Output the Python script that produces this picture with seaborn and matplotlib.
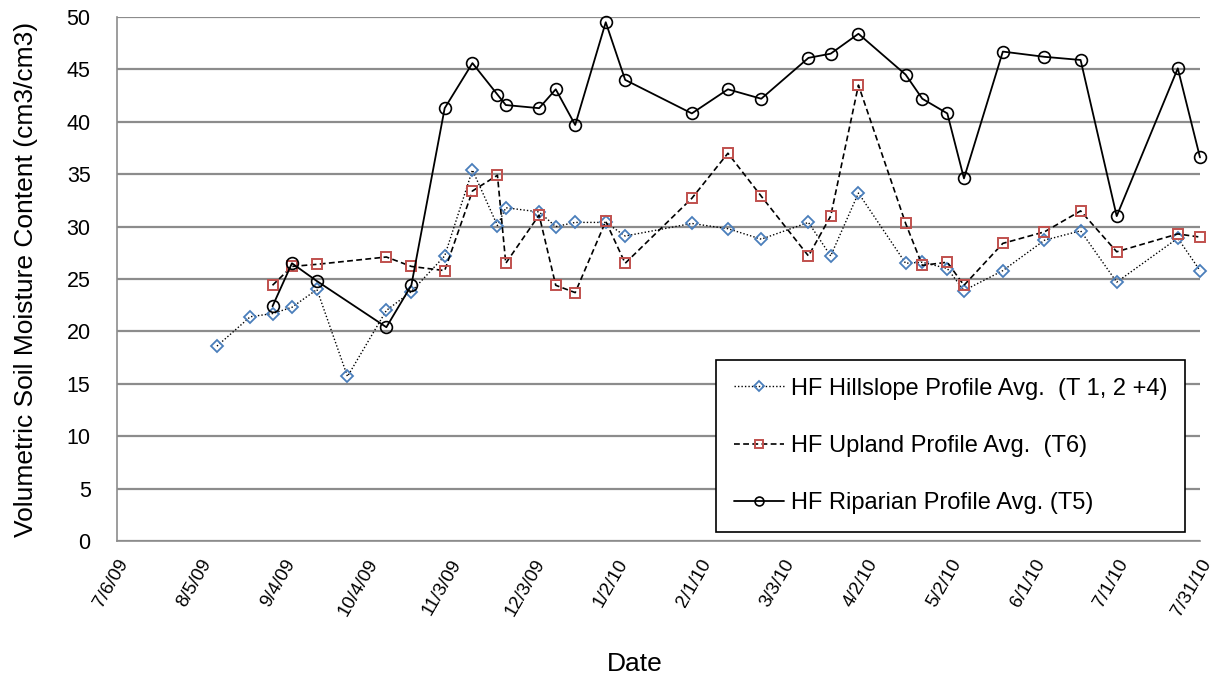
"""
Volumetric soil moisture by profile position, HF site, 2009-2010
"""

import pandas as pd
import matplotlib
matplotlib.use("Agg")
import matplotlib.pyplot as plt
import seaborn as sns

# sample dates
hill_dates = ['2009-08-11', '2009-08-23', '2009-08-31', '2009-09-07', '2009-09-16',
              '2009-09-27', '2009-10-11', '2009-10-20', '2009-11-01', '2009-11-11',
              '2009-11-20', '2009-11-23', '2009-12-05', '2009-12-11', '2009-12-18',
              '2009-12-29', '2010-01-05', '2010-01-29', '2010-02-11', '2010-02-23',
              '2010-03-12', '2010-03-20', '2010-03-30', '2010-04-16', '2010-04-22',
              '2010-05-01', '2010-05-07', '2010-05-21', '2010-06-05', '2010-06-18',
              '2010-07-01', '2010-07-23', '2010-07-31']
hillslope = [18.6, 21.4, 21.7, 22.3, 24.0, 15.7, 22.0, 23.8, 27.2, 35.4,
             30.1, 31.8, 31.4, 30.0, 30.4, 30.4, 29.1, 30.3, 29.8, 28.8,
             30.4, 27.2, 33.2, 26.5, 26.6, 26.0, 23.9, 25.8, 28.7, 29.6,
             24.7, 28.9, 25.8]

# upland and riparian start on 8/31/09 and skip 9/27/09
site_dates = ['2009-08-31', '2009-09-07', '2009-09-16', '2009-10-11', '2009-10-20',
              '2009-11-01', '2009-11-11', '2009-11-20', '2009-11-23', '2009-12-05',
              '2009-12-11', '2009-12-18', '2009-12-29', '2010-01-05', '2010-01-29',
              '2010-02-11', '2010-02-23', '2010-03-12', '2010-03-20', '2010-03-30',
              '2010-04-16', '2010-04-22', '2010-05-01', '2010-05-07', '2010-05-21',
              '2010-06-05', '2010-06-18', '2010-07-01', '2010-07-23', '2010-07-31']
upland = [24.4, 26.2, 26.4, 27.1, 26.2, 25.8, 33.4, 34.9, 26.5, 31.1,
          24.4, 23.7, 30.5, 26.5, 32.7, 37.0, 32.9, 27.2, 31.0, 43.5,
          30.3, 26.3, 26.6, 24.4, 28.4, 29.5, 31.5, 27.6, 29.3, 29.0]
riparian = [22.4, 26.5, 24.8, 20.4, 24.4, 41.3, 45.6, 42.6, 41.6, 41.3,
            43.1, 39.7, 49.5, 44.0, 40.8, 43.1, 42.2, 46.1, 46.5, 48.4,
            44.5, 42.2, 40.8, 34.6, 46.7, 46.2, 45.9, 31.0, 45.1, 36.6]

labels = ['HF Hillslope Profile Avg.  (T 1, 2 +4)',
          'HF Upland Profile Avg.  (T6)',
          'HF Riparian Profile Avg. (T5)']

sns.set_style("white")
plt.rcParams['font.family'] = ['Liberation Sans', 'DejaVu Sans']
plt.rcParams['text.color'] = 'black'
plt.rcParams['axes.labelcolor'] = 'black'
plt.rcParams['xtick.color'] = 'black'
plt.rcParams['ytick.color'] = 'black'

df_hill = pd.DataFrame({'date': pd.to_datetime(hill_dates), 'value': hillslope})
df_up = pd.DataFrame({'date': pd.to_datetime(site_dates), 'value': upland})
df_rip = pd.DataFrame({'date': pd.to_datetime(site_dates), 'value': riparian})

fig = plt.figure(figsize=(12.22, 6.88), dpi=100)
ax = fig.add_axes([117 / 1222, 1 - 541 / 688, (1200 - 117) / 1222, (541 - 17) / 688])

sns.lineplot(data=df_hill, x='date', y='value', ax=ax, color='black', lw=1.0,
             linestyle=(0, (1, 1.5)), marker='D', markersize=6.5,
             markerfacecolor='none', markeredgecolor='#4a7ebb', markeredgewidth=1.3,
             label=labels[0], clip_on=False)
sns.lineplot(data=df_up, x='date', y='value', ax=ax, color='black', lw=1.2,
             linestyle=(0, (3.5, 2)), marker='s', markersize=7.5,
             markerfacecolor='none', markeredgecolor='#c0504d', markeredgewidth=1.4,
             label=labels[1], clip_on=False)
sns.lineplot(data=df_rip, x='date', y='value', ax=ax, color='black', lw=1.3,
             marker='o', markersize=8.5, markerfacecolor='none',
             markeredgecolor='black', markeredgewidth=1.2, label=labels[2],
             clip_on=False)

# axes setup
start = pd.Timestamp('2009-07-06')
ticks = pd.date_range(start, periods=14, freq='30D')
ax.set_xlim(start, pd.Timestamp('2010-07-31'))
ax.set_xticks(ticks)
ax.set_xticklabels([f"{d.month}/{d.day}/{d.strftime('%y')}" for d in ticks],
                   rotation=60, ha='right', rotation_mode='anchor', fontsize=13.5)
ax.set_ylim(0, 50)
ax.set_yticks(range(0, 51, 5))
ax.tick_params(axis='y', labelsize=15.5, length=0, pad=19, labelcolor='black')
ax.tick_params(axis='x', length=0, pad=11, labelcolor='black')
ax.yaxis.grid(True, color='#8c8c8c', lw=1.6)
ax.xaxis.grid(False)
for side in ['top', 'right']:
    ax.spines[side].set_visible(False)
for side in ['left', 'bottom']:
    ax.spines[side].set_color('#8c8c8c')
    ax.spines[side].set_linewidth(1.2)

ax.set_xlabel('Date', fontsize=19, color='black')
ax.xaxis.set_label_coords(0.478, -0.212)
ax.set_ylabel('Volumetric Soil Moisture Content (cm3/cm3)', fontsize=19, color='black')
ax.yaxis.set_label_coords(-0.073, 0.5)

leg = ax.legend(loc='lower right', bbox_to_anchor=(0.986, 0.017), fontsize=17,
                frameon=True, fancybox=False, edgecolor='black', framealpha=1,
                handlelength=2.1, handletextpad=0.3, labelspacing=1.5,
                borderpad=0.75, markerscale=0.75, borderaxespad=0,
                labelcolor='black')
leg.get_frame().set_linewidth(1.2)

plt.savefig('out.png', dpi=100)
